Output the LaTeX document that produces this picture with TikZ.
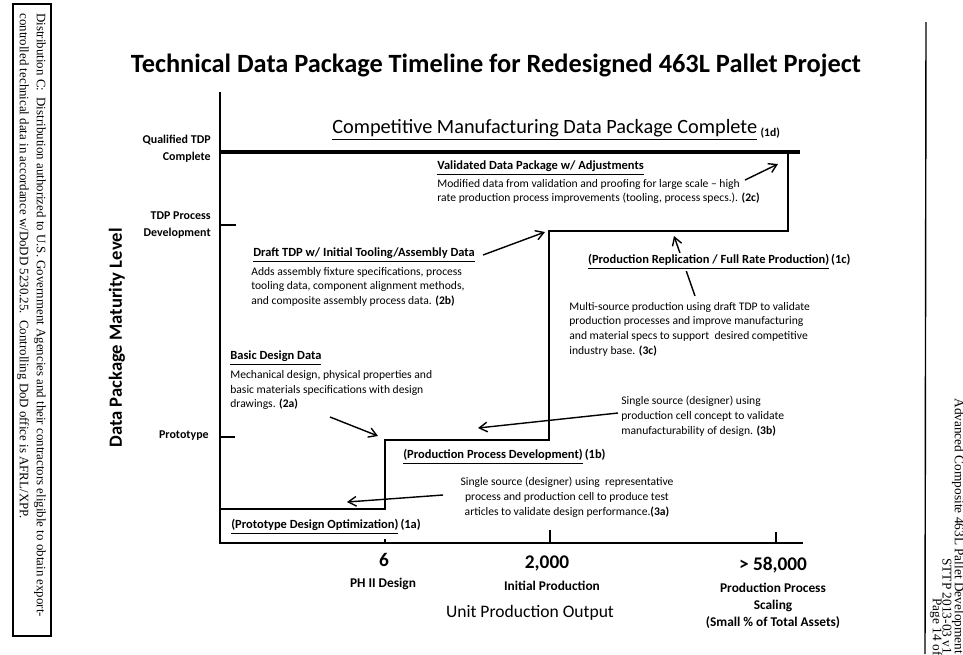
\documentclass[tikz,border=0pt]{standalone}
\usepackage{fontspec}
\setmainfont{Carlito}
\newfontfamily\timesfont{Liberation Serif}
\usetikzlibrary{arrows.meta}

\begin{document}
\begin{tikzpicture}[x=0.02cm, y=-0.02cm,
    lvl/.style={font=\bfseries\fontsize{6.8}{9.7}\selectfont, align=right, anchor=east, inner sep=0pt},
    head/.style={font=\bfseries\fontsize{7.1}{8.5}\selectfont, anchor=west, inner sep=0pt},
    note/.style={font=\fontsize{6.6}{8.3}\selectfont, align=left, anchor=north west, inner sep=0pt},
    xnum/.style={font=\bfseries\fontsize{11}{13}\selectfont, inner sep=0pt},
    xcap/.style={font=\bfseries\fontsize{7.6}{9.7}\selectfont, align=center, inner sep=0pt},
    foot/.style={rotate=-90, anchor=west, inner sep=0pt, font=\timesfont\fontsize{7.6}{9}\selectfont},
    stair/.style={line width=1.1pt},
    ptr/.style={-{Straight Barb[length=4.5pt,width=5.5pt]}, line width=0.8pt}]

        \useasboundingbox (0,0) rectangle (963,654);
        \clip (0,0) rectangle (963,654);

        \draw[line width=0.8pt] (13,4) rectangle (51,636);
        \node[rotate=-90, anchor=west, align=left, inner sep=0pt, font=\timesfont\fontsize{7.35}{9.7}\selectfont] (dist) at (31.5,13)
          {Distribution C:\ \ Distribution authorized to U.S. Government Agencies and their contractors eligible to obtain export-\\
           controlled technical data in accordance w/DoDD 5230.25.\ \ Controlling DoD office is AFRL/XPP.};

        \draw[line width=0.8pt] (926,22) -- (925,654);
        \node[foot] (foota) at (958,398) {Advanced Composite 463L Pallet Development};
        \node[foot] (footb) at (947,558) {STTP 2013-03 v1.0};
        \node[foot] (footc) at (936,598) {Page 14 of 25};

        \node[font=\bfseries\fontsize{15}{17}\selectfont] (title) at (496,65) {Technical Data Package Timeline for Redesigned 463L Pallet Project};

        \draw[line width=1.4pt] (220,92) -- (220,543) -- (803,543);
        \draw[line width=2.6pt] (220,152) -- (800,152);
        \draw[line width=1.1pt] (220,225) -- (236,225);
        \draw[line width=1.1pt] (220,437) -- (235,437);
        \draw[line width=1.1pt] (385,543) -- (385,539);
        \draw[line width=1.1pt] (550,543) -- (550,530);
        \draw[line width=1.1pt] (776,543) -- (776,532);

        \draw[stair] (220,509) -- (385,509) -- (385,440) -- (549,440) -- (549,231) -- (788,231) -- (788,152);

        \node[lvl] (qual) at (211,148.5) {Qualified TDP\\Complete};
        \node[lvl] (tdpproc) at (211,225.5) {TDP Process\\Development};
        \node[lvl] (proto) at (209,436) {Prototype};
        \node[rotate=90, font=\bfseries\fontsize{10.6}{12}\selectfont] (ytitle) at (117,338) {Data Package Maturity Level};

        \node[anchor=west, inner sep=0pt, font=\fontsize{11.55}{13}\selectfont] (complete) at (332,130)
          {\underline{Competitive Manufacturing Data Package Complete}\hspace{2pt}{\bfseries\fontsize{6.6}{8}\selectfont\raisebox{-1.5pt}{(1d)}}};

        \node[head] (valhead) at (437,168) {\underline{Validated Data Package w/ Adjustments}};
        \node[note] (valbody) at (437,179) {Modified data from validation and proofing for large scale -- high\\
          rate production process improvements (tooling, process specs.). \textbf{(2c)}};

        \node[head] (drafthead) at (253,255) {\underline{Draft TDP w/ Initial Tooling/Assembly Data}};
        \node[note] (draftbody) at (251,267) {Adds assembly fixture specifications, process\\
          tooling data, component alignment methods,\\
          and composite assembly process data. \textbf{(2b)}};

        \node[head] (basichead) at (230,358) {\underline{Basic Design Data}};
        \node[note] (basicbody) at (230,370) {Mechanical design, physical properties and\\
          basic materials specifications with design\\
          drawings. \textbf{(2a)}};

        \coordinate (from3c) at (695,296);
        \coordinate (to3c) at (674,236);
        \draw[ptr] (from3c) -- (to3c);

        \node[head, fill=white, inner sep=1pt] (replhead) at (586,262) {\underline{(Production Replication / Full Rate Production)}\,(1c)};
        \node[note] (replbody) at (569,302) {Multi-source production using draft TDP to validate\\
          production processes and improve manufacturing\\
          and material specs to support\ \ desired competitive\\
          industry base. \textbf{(3c)}};

        \node[note] (cellbody) at (621,396) {Single source (designer) using\\
          production cell concept to validate\\
          manufacturability of design. \textbf{(3b)}};

        \node[head] (prochead) at (403,457) {\underline{(Production Process Development)}\,(1b)};
        \node[note, align=center, anchor=north] (procbody) at (567,477) {Single source (designer) using\ \ representative\\
          process and production cell to produce test\\
          articles to validate design performance.\textbf{(3a)}};

        \node[head] (protohead) at (231,527) {\underline{(Prototype Design Optimization)}\,(1a)};

        \coordinate (from2c) at (745,180);
        \coordinate (to2c) at (778,164);
        \coordinate (from2b) at (483,255);
        \coordinate (to2b) at (545,232);
        \coordinate (from2a) at (330,417);
        \coordinate (to2a) at (378,436);
        \coordinate (from3b) at (618,413);
        \coordinate (to3b) at (478,428);
        \coordinate (from3a) at (443,495);
        \coordinate (to3a) at (347,502);
        \draw[ptr] (from2c) -- (to2c);
        \draw[ptr] (from2b) -- (to2b);
        \draw[ptr] (from2a) -- (to2a);
        \draw[ptr] (from3b) -- (to3b);
        \draw[ptr] (from3a) -- (to3a);

        \node[xnum] (six) at (384,560) {6};
        \node[xcap] (phii) at (383,584) {PH II Design};
        \node[xnum] (twok) at (547,563) {2,000};
        \node[xcap] (initial) at (552,586) {Initial Production};
        \node[xnum] (fiftyeight) at (773,565) {> 58,000};
        \node[xcap] (scaling) at (773,606) {Production Process\\Scaling\\(Small \% of Total Assets)};
        \node[inner sep=0pt, font=\fontsize{10}{12}\selectfont] (xtitle) at (530,613) {Unit Production Output};

\end{tikzpicture}
\end{document}
